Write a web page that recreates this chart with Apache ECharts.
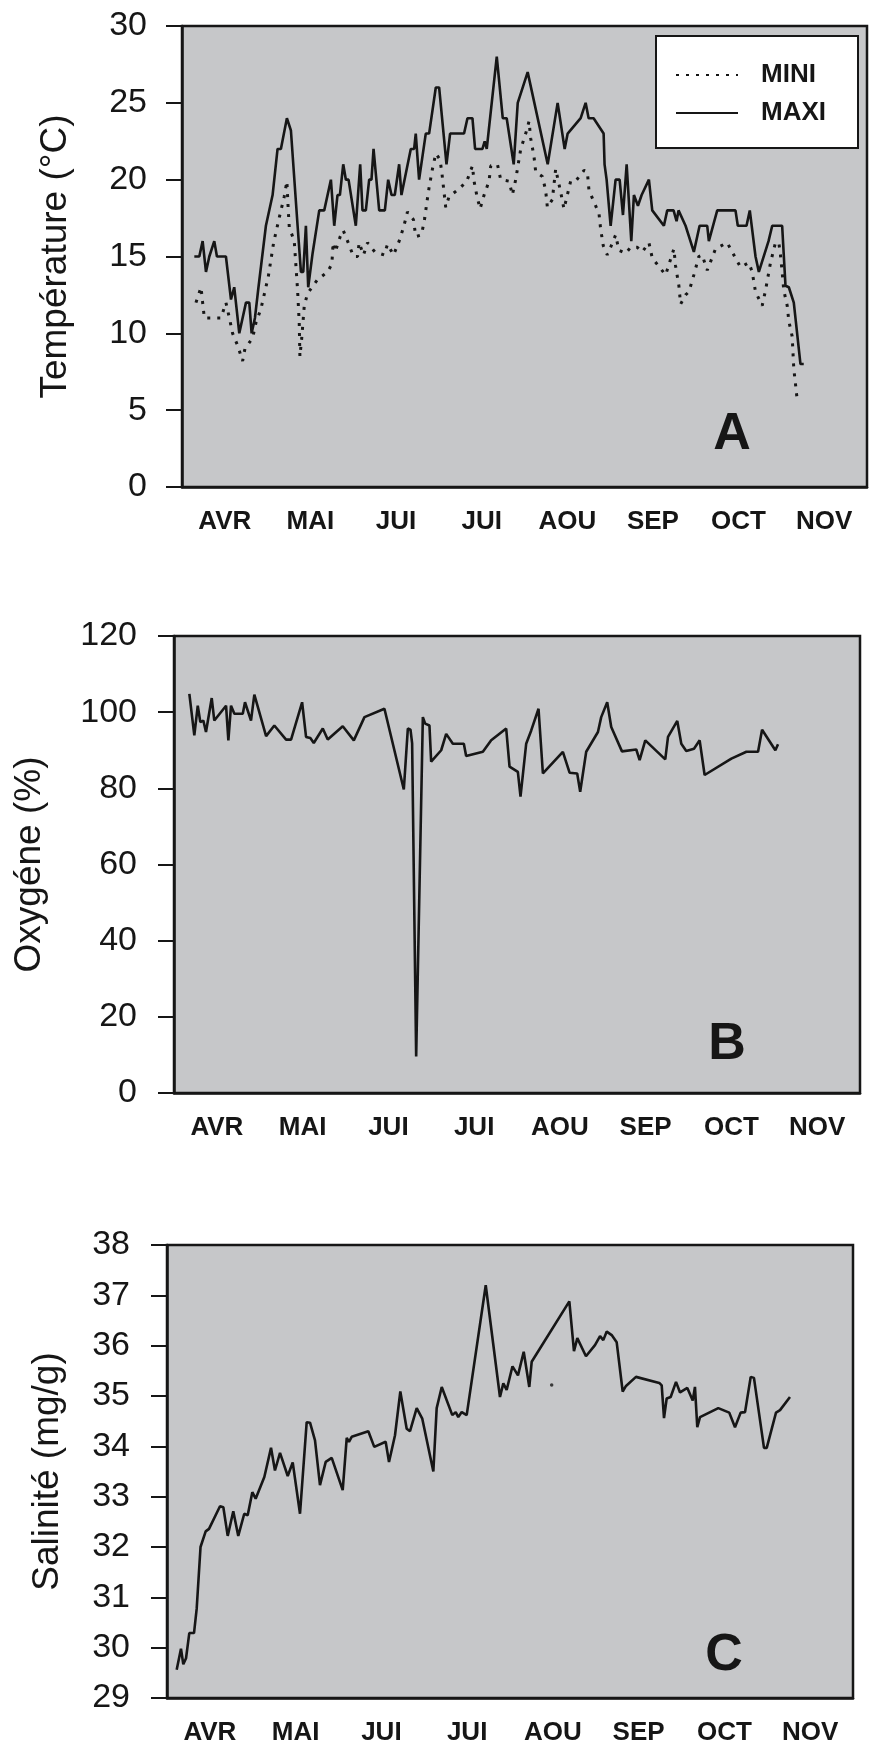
<!DOCTYPE html>
<html lang="fr">
<head>
<meta charset="utf-8">
<title>Température, oxygène, salinité</title>
<script src="https://cdn.jsdelivr.net/npm/echarts@6.0.0/dist/echarts.min.js"></script>
<style>
  html, body { margin: 0; padding: 0; background: #fff; }
  #chart { width: 869px; height: 1746px; }
</style>
</head>
<body>
<div id="chart"></div>
<script>
// mois (une bande par mois, axe x continu de 0 à 8)
const monthLabels = ["AVR", "MAI", "JUI", "JUI", "AOU", "SEP", "OCT", "NOV"];

// A : température (°C), [mois, valeur]
const maxiTemp = [
  [0.144, 15], [0.202, 15], [0.241, 16], [0.28, 14], [0.319, 15], [0.377, 16], [0.408, 15],
  [0.513, 15], [0.572, 12.2], [0.61, 13], [0.669, 10], [0.747, 12], [0.786, 12], [0.813, 10],
  [0.852, 11], [0.891, 12.9], [0.98, 17], [1.058, 19], [1.116, 22], [1.155, 22], [1.225, 24],
  [1.272, 23.2], [1.35, 17], [1.389, 14], [1.416, 14], [1.447, 17], [1.474, 13], [1.525, 15.2],
  [1.603, 18], [1.661, 18], [1.739, 20], [1.778, 17], [1.816, 19], [1.844, 19], [1.883, 21],
  [1.914, 20], [1.945, 20], [2.03, 17], [2.081, 21], [2.108, 18], [2.147, 18], [2.186, 20],
  [2.213, 20], [2.237, 22], [2.303, 18], [2.369, 18], [2.408, 20], [2.447, 19], [2.485, 19],
  [2.536, 21], [2.563, 19], [2.672, 22], [2.711, 22], [2.73, 23], [2.769, 20], [2.847, 23],
  [2.886, 23], [2.964, 26], [3.003, 26], [3.089, 21], [3.131, 23], [3.294, 23], [3.334, 24],
  [3.392, 24], [3.423, 22], [3.509, 22], [3.535, 22.5], [3.559, 22], [3.676, 28], [3.746, 24],
  [3.792, 24], [3.874, 21], [3.921, 25], [4.037, 27], [4.271, 21], [4.387, 25], [4.469, 22],
  [4.504, 23], [4.656, 24], [4.714, 25], [4.749, 24], [4.807, 24], [4.924, 23], [4.935, 21],
  [4.959, 20], [5.006, 17], [5.064, 20], [5.111, 20], [5.15, 17.7], [5.193, 21], [5.247, 16],
  [5.278, 19], [5.325, 18.3], [5.368, 19], [5.453, 20], [5.492, 18], [5.628, 17], [5.667, 18],
  [5.741, 18], [5.776, 17.3], [5.799, 18], [5.881, 17], [5.978, 15.3], [6.045, 17], [6.134, 17],
  [6.153, 16], [6.251, 18], [6.464, 18], [6.491, 17], [6.593, 17], [6.631, 18], [6.698, 15],
  [6.737, 14], [6.85, 16], [6.893, 17], [7.009, 17], [7.048, 13.1], [7.087, 13], [7.145, 12],
  [7.223, 8], [7.261, 8]
];

const miniTemp = [
  [0.163, 12], [0.222, 13], [0.241, 12], [0.261, 11], [0.455, 11], [0.513, 12], [0.553, 11],
  [0.591, 10], [0.65, 9.2], [0.708, 8.2], [0.735, 9], [0.825, 9.7], [0.864, 10.7], [0.922, 11.6],
  [1.008, 13.7], [1.07, 15.9], [1.147, 17.8], [1.194, 18.9], [1.225, 19.9], [1.241, 18],
  [1.253, 16.9], [1.311, 16], [1.35, 12.8], [1.369, 10.7], [1.377, 8.5], [1.397, 9.6],
  [1.428, 11.8], [1.467, 12.6], [1.583, 13.5], [1.7, 14], [1.75, 14.5], [1.765, 15.9],
  [1.79, 15.3], [1.848, 16.3], [1.883, 16.7], [1.941, 15.9], [2.003, 15], [2.05, 15],
  [2.069, 15.9], [2.12, 15.1], [2.167, 15.9], [2.252, 15.3], [2.361, 15.1], [2.4, 15.8],
  [2.47, 15.1], [2.536, 16], [2.587, 16.9], [2.633, 17.9], [2.703, 17.4], [2.73, 16.3],
  [2.797, 16.4], [2.835, 17.5], [2.859, 18.5], [2.886, 19.5], [2.925, 20.7], [2.964, 21.7],
  [3.014, 21.3], [3.038, 20.3], [3.08, 18.2], [3.119, 18.9], [3.236, 19.4], [3.326, 19.9],
  [3.392, 20.9], [3.411, 19.9], [3.442, 19], [3.481, 18.1], [3.528, 19], [3.586, 19.9],
  [3.606, 20.9], [3.684, 21], [3.722, 20], [3.82, 19.9], [3.858, 19], [3.897, 20], [3.956, 22],
  [4.014, 23], [4.053, 23.8], [4.072, 22.7], [4.111, 21.5], [4.131, 20.5], [4.209, 20.2],
  [4.247, 19.3], [4.267, 18.2], [4.325, 18.7], [4.364, 20.7], [4.422, 19.2], [4.461, 18.1],
  [4.5, 19], [4.539, 19.9], [4.597, 19.9], [4.695, 20.6], [4.734, 20.5], [4.753, 19.3],
  [4.87, 17.8], [4.889, 16.8], [4.92, 15.7], [4.967, 15.1], [5.006, 15.6], [5.064, 16.4],
  [5.103, 15.4], [5.181, 15.2], [5.239, 15.6], [5.317, 15.6], [5.376, 15.3], [5.453, 15.9],
  [5.492, 14.9], [5.648, 13.8], [5.745, 15.5], [5.764, 14.4], [5.803, 13.1], [5.823, 11.9],
  [5.881, 12.5], [5.92, 12.7], [5.978, 13.8], [6.036, 15], [6.075, 15.1], [6.134, 14.1],
  [6.231, 15.5], [6.367, 15.9], [6.523, 14.3], [6.62, 14.6], [6.659, 14], [6.698, 12.7],
  [6.776, 11.8], [6.815, 12.8], [6.873, 14.6], [6.931, 15.9], [6.97, 15.9], [6.989, 15.1],
  [7.009, 14], [7.028, 12.8], [7.068, 11.8], [7.087, 10.8], [7.126, 9.8], [7.145, 7.7],
  [7.165, 6.7], [7.184, 5.7]
];

// B : oxygène (%)
const oxygen = [
  [0.179, 104.8], [0.237, 93.9], [0.277, 101.7], [0.307, 97.4], [0.342, 97.8], [0.373, 94.8],
  [0.44, 103.7], [0.47, 97.8], [0.607, 101.7], [0.634, 92.6], [0.665, 101.7], [0.704, 99.6],
  [0.802, 99.6], [0.828, 102.6], [0.898, 97.8], [0.937, 104.6], [1.074, 93.7], [1.17, 96.5],
  [1.307, 92.8], [1.365, 92.8], [1.494, 102.6], [1.54, 93.5], [1.59, 93.2], [1.63, 91.9],
  [1.735, 95.7], [1.793, 92.8], [1.968, 96.3], [2.097, 92.6], [2.221, 98.7], [2.454, 100.9],
  [2.68, 79.7], [2.727, 95.7], [2.758, 95.4], [2.777, 91.8], [2.824, 9.6], [2.902, 98.7],
  [2.929, 97], [2.979, 96.5], [2.999, 87], [3.116, 90], [3.174, 94.3], [3.252, 91.7],
  [3.38, 91.7], [3.407, 88.5], [3.602, 89.6], [3.699, 92.6], [3.874, 95.7], [3.913, 85.7],
  [4.01, 84.3], [4.041, 77.8], [4.107, 91.7], [4.166, 95.2], [4.251, 100.9], [4.302, 83.9],
  [4.535, 89.6], [4.613, 84.1], [4.702, 83.9], [4.737, 79.1], [4.807, 89.6], [4.944, 94.8],
  [4.982, 98.7], [5.052, 102.6], [5.099, 96.1], [5.224, 89.7], [5.391, 90.2], [5.43, 87.4],
  [5.496, 92.6], [5.729, 87.6], [5.761, 93.5], [5.869, 97.7], [5.916, 91.7], [5.974, 89.8],
  [6.064, 90.4], [6.13, 92.6], [6.188, 83.5], [6.5, 87.8], [6.675, 89.6], [6.811, 89.6],
  [6.858, 95.4], [7.013, 90], [7.044, 91.6]
];

// C : salinité (mg/g)
const salinity = [
  [0.113, 29.56], [0.163, 29.98], [0.19, 29.67], [0.222, 29.79], [0.26, 30.29], [0.315, 30.29],
  [0.346, 30.77], [0.391, 32.0], [0.451, 32.31], [0.49, 32.36], [0.618, 32.81], [0.657, 32.79],
  [0.708, 32.22], [0.773, 32.71], [0.831, 32.22], [0.901, 32.66], [0.941, 32.63], [0.995, 33.09],
  [1.034, 32.96], [1.135, 33.39], [1.213, 33.97], [1.259, 33.52], [1.318, 33.87], [1.408, 33.41],
  [1.466, 33.68], [1.551, 32.66], [1.571, 32.63], [1.629, 34.48], [1.668, 34.47], [1.726, 34.12],
  [1.784, 33.23], [1.851, 33.69], [1.921, 33.77], [2.049, 33.13], [2.096, 34.17], [2.122, 34.09],
  [2.154, 34.19], [2.348, 34.3], [2.417, 33.99], [2.55, 34.09], [2.589, 33.69], [2.659, 34.22],
  [2.721, 35.09], [2.795, 34.35], [2.834, 34.3], [2.912, 34.76], [2.977, 34.55], [3.106, 33.5],
  [3.145, 34.76], [3.204, 35.18], [3.327, 34.62], [3.367, 34.68], [3.397, 34.58], [3.437, 34.68],
  [3.495, 34.62], [3.717, 37.2], [3.883, 34.98], [3.922, 35.25], [3.961, 35.12], [4.029, 35.59],
  [4.093, 35.41], [4.16, 35.88], [4.225, 35.18], [4.253, 35.68], [4.692, 36.88], [4.746, 35.89],
  [4.785, 36.15], [4.886, 35.79], [4.991, 36.01], [5.05, 36.19], [5.088, 36.11], [5.128, 36.28],
  [5.186, 36.21], [5.244, 36.07], [5.314, 35.09], [5.353, 35.2], [5.469, 35.38], [5.741, 35.26],
  [5.769, 35.21], [5.796, 34.56], [5.827, 34.95], [5.874, 34.98], [5.936, 35.28], [5.983, 35.07],
  [6.068, 35.16], [6.131, 34.91], [6.157, 35.18], [6.184, 34.38], [6.216, 34.58], [6.429, 34.76],
  [6.557, 34.67], [6.624, 34.38], [6.69, 34.67], [6.741, 34.68], [6.807, 35.38], [6.845, 35.36],
  [6.962, 33.97], [6.994, 33.97], [7.102, 34.67], [7.149, 34.72], [7.265, 34.98]
];
// point isolé sur la courbe C
const salinityLone = [[4.486, 35.22]];

// graduations des axes y
const tempAxis = { min: 0, max: 30, interval: 5 };
const oxyAxis = { min: 0, max: 120, interval: 20 };
const salAxis = { min: 29, max: 38, interval: 1 };

const INK = "#161616";
const PANEL = "#c6c7c9";
const FONT = "Liberation Sans";

const grids = [
  { left: 182, top: 26, width: 685, height: 461 },
  { left: 174, top: 636, width: 686, height: 457 },
  { left: 167, top: 1245, width: 686, height: 455 },
];

function catAxis(gridIndex) {
  return {
    type: "category",
    gridIndex,
    position: "bottom",
    data: monthLabels,
    boundaryGap: true,
    axisLine: { lineStyle: { color: INK, width: 2.5 } },
    axisTick: { length: 18, lineStyle: { color: INK, width: 2 } },
    axisLabel: {
      margin: 22,
      color: INK,
      fontFamily: FONT,
      fontWeight: "bold",
      fontSize: 26,
      interval: 0,
    },
    splitLine: { show: false },
  };
}

function valXAxis(gridIndex) {
  return { type: "value", gridIndex, min: 0, max: 8, show: false, position: "bottom" };
}

function yAxis(gridIndex, range, name, nameGap, labelMargin) {
  return {
    type: "value",
    gridIndex,
    min: range.min,
    max: range.max,
    interval: range.interval,
    name,
    nameLocation: "middle",
    nameRotate: 90,
    nameGap,
    nameTextStyle: { color: INK, fontFamily: FONT, fontSize: 37 },
    axisLine: { show: true, lineStyle: { color: INK, width: 2.5 } },
    axisTick: { show: true, length: 16, lineStyle: { color: INK, width: 2 } },
    axisLabel: { margin: labelMargin, color: INK, fontFamily: FONT, fontSize: 34 },
    splitLine: { show: false },
  };
}

const chart = echarts.init(document.getElementById("chart"), null, { renderer: "canvas" });

chart.setOption({
  animation: false,
  backgroundColor: "#ffffff",
  textStyle: { fontFamily: FONT },
  grid: grids.map((g) => ({
    ...g,
    show: true,
    backgroundColor: PANEL,
    borderColor: INK,
    borderWidth: 2.5,
  })),
  xAxis: [catAxis(0), valXAxis(0), catAxis(1), valXAxis(1), catAxis(2), valXAxis(2)],
  yAxis: [
    yAxis(0, tempAxis, "Température (°C)", 108, 35),
    yAxis(1, oxyAxis, "Oxygéne (%)", 126, 37),
    yAxis(2, salAxis, "Salinité (mg/g)", 101, 37),
  ],
  legend: {
    data: ["MINI", "MAXI"],
    orient: "vertical",
    left: 656,
    top: 36,
    backgroundColor: "#ffffff",
    borderColor: INK,
    borderWidth: 2,
    padding: [26, 32, 22, 19],
    itemWidth: 62,
    itemHeight: 14,
    itemGap: 12,
    // pas de pastille au milieu du trait
    itemStyle: { opacity: 0 },
    textStyle: {
      color: INK,
      fontFamily: FONT,
      fontWeight: "bold",
      fontSize: 26,
      padding: [0, 0, 0, 18],
    },
  },
  graphic: [
    { type: "text", x: 732, y: 435, style: { text: "A", fill: INK, fontFamily: FONT, fontWeight: "bold", fontSize: 52, align: "center", verticalAlign: "middle" } },
    { type: "text", x: 727, y: 1045, style: { text: "B", fill: INK, fontFamily: FONT, fontWeight: "bold", fontSize: 52, align: "center", verticalAlign: "middle" } },
    { type: "text", x: 724, y: 1656, style: { text: "C", fill: INK, fontFamily: FONT, fontWeight: "bold", fontSize: 52, align: "center", verticalAlign: "middle" } },
  ],
  series: [
    {
      name: "MINI",
      type: "line",
      xAxisIndex: 1,
      yAxisIndex: 0,
      data: miniTemp,
      symbol: "none",
      lineStyle: { color: INK, width: 3, type: [3, 7] },
      itemStyle: { color: INK },
    },
    {
      name: "MAXI",
      type: "line",
      xAxisIndex: 1,
      yAxisIndex: 0,
      data: maxiTemp,
      symbol: "none",
      lineStyle: { color: INK, width: 2.6 },
      itemStyle: { color: INK },
    },
    {
      name: "Oxygène",
      type: "line",
      xAxisIndex: 3,
      yAxisIndex: 1,
      data: oxygen,
      symbol: "none",
      lineStyle: { color: INK, width: 2.6 },
    },
    {
      name: "Salinité",
      type: "line",
      xAxisIndex: 5,
      yAxisIndex: 2,
      data: salinity,
      symbol: "none",
      lineStyle: { color: INK, width: 2.6 },
    },
    {
      name: "Salinité (isolé)",
      type: "scatter",
      xAxisIndex: 5,
      yAxisIndex: 2,
      data: salinityLone,
      symbolSize: 3.5,
      itemStyle: { color: INK },
    },
  ],
});

window.addEventListener("resize", () => chart.resize());
</script>
</body>
</html>
